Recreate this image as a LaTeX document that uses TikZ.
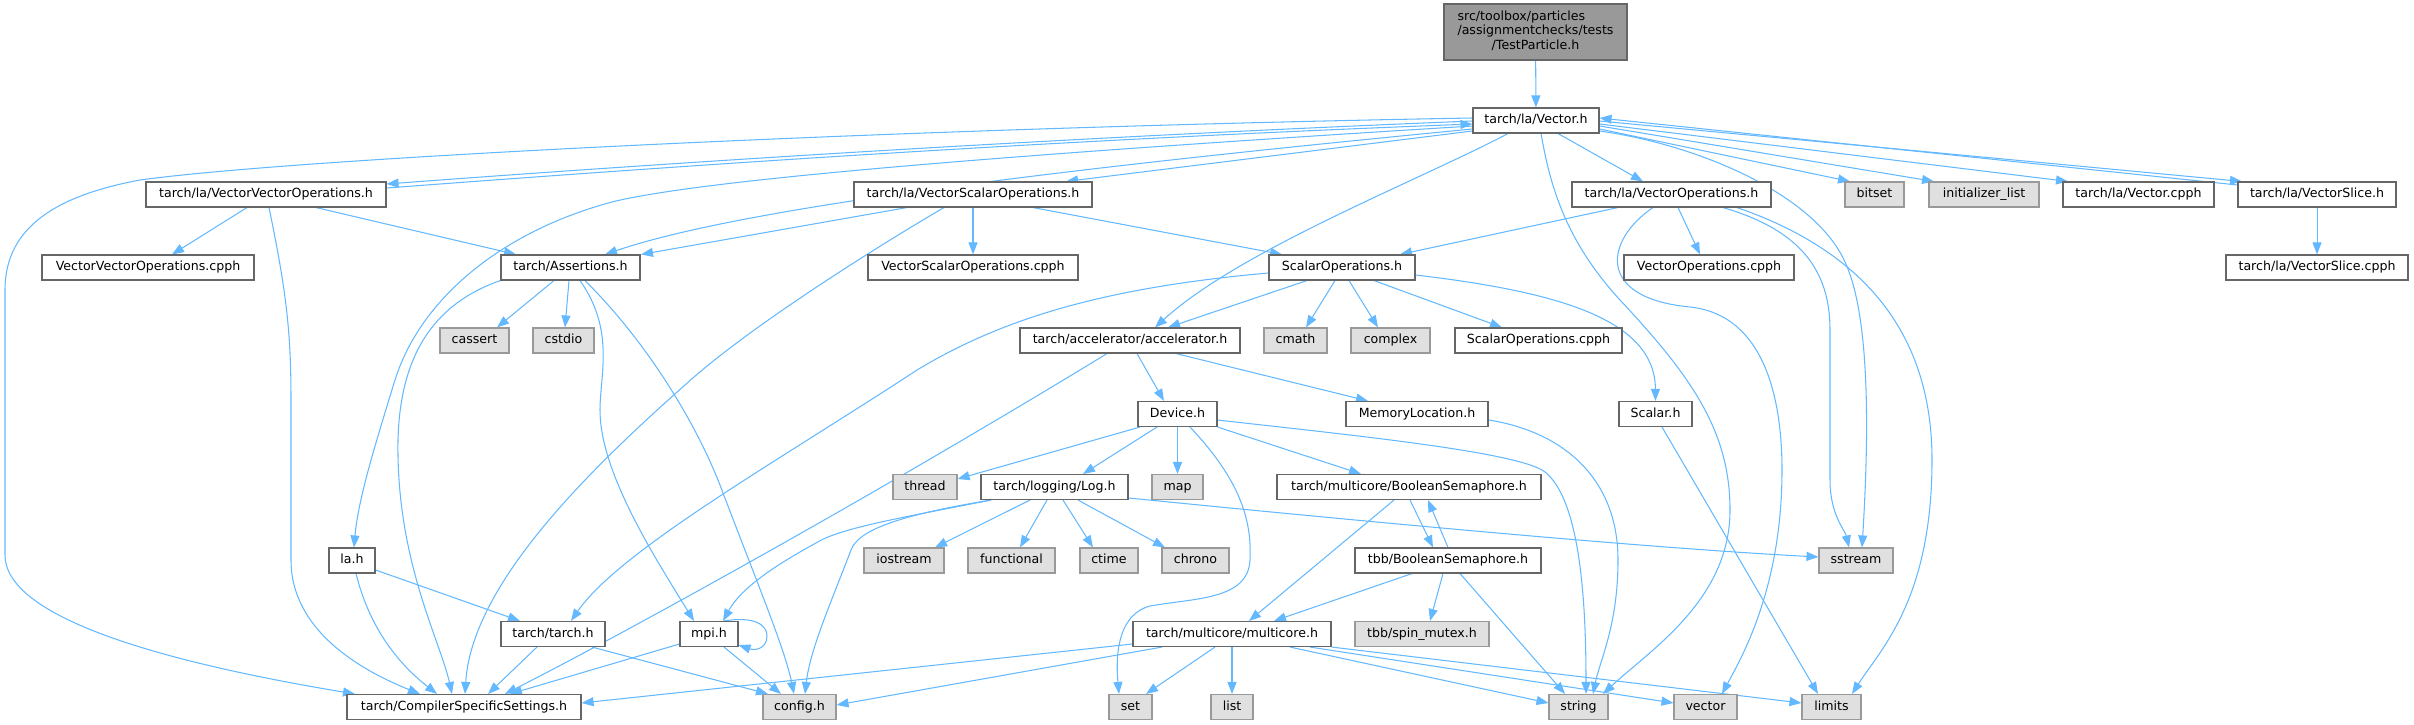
\documentclass[tikz,border=0pt]{standalone}
\usepackage{fontspec}
\setmainfont{DejaVu Sans}
\usetikzlibrary{arrows.meta,backgrounds}
\definecolor{edgeblue}{HTML}{63B8FF}
\definecolor{bordergray}{HTML}{666666}
\definecolor{sysfill}{HTML}{E0E0E0}
\definecolor{sysborder}{HTML}{999999}
\definecolor{rootfill}{HTML}{999999}
\begin{document}
\begin{tikzpicture}[x=1pt,y=-1pt,
  hdr/.style={draw=bordergray, fill=white, line width=1.1pt, inner sep=0pt,
    minimum height=25pt, text height=9.4pt, text depth=2.8pt,
    font=\fontsize{12.6}{14.6}\selectfont},
  sys/.style={hdr, draw=sysborder, fill=sysfill},
  rootbox/.style={draw=bordergray, fill=rootfill, line width=1.1pt, inner sep=0pt,
    minimum height=56pt, font=\fontsize{12.6}{14.6}\selectfont},
  e/.style={draw=edgeblue, line width=1.05pt, -{Triangle[length=12pt,width=9pt]}}]

\useasboundingbox (0,0) rectangle (2414,725);

% nodes
\node[rootbox, minimum width=183pt] (tp) at (1535.5,32)
  {\begin{tabular}{@{}l@{}}src/toolbox/particles\\/assignmentchecks/tests\\\multicolumn{1}{@{}c@{}}{/TestParticle.h}\end{tabular}};
\node[hdr, minimum width=126pt] (vec) at (1536,120.5) {tarch/la/Vector.h};

\node[hdr, minimum width=240pt] (vvo) at (266,194.5) {tarch/la/VectorVectorOperations.h};
\node[hdr, minimum width=238pt] (vso) at (973,194.5) {tarch/la/VectorScalarOperations.h};
\node[hdr, minimum width=199pt] (vops) at (1671.5,194.5) {tarch/la/VectorOperations.h};
\node[sys, minimum width=59pt] (bitset) at (1874.5,194.5) {bitset};
\node[sys, minimum width=110pt] (initl) at (1984,194.5) {initializer\_list};
\node[hdr, minimum width=151pt] (vcpph) at (2138.5,194.5) {tarch/la/Vector.cpph};
\node[hdr, minimum width=158pt] (vslice) at (2317,194.5) {tarch/la/VectorSlice.h};

\node[hdr, minimum width=212pt] (vvocpph) at (148,267.5) {VectorVectorOperations.cpph};
\node[hdr, minimum width=139pt] (asrt) at (570.5,267.5) {tarch/Assertions.h};
\node[hdr, minimum width=210pt] (vsocpph) at (973,267.5) {VectorScalarOperations.cpph};
\node[hdr, minimum width=146pt] (sops) at (1342,267.5) {ScalarOperations.h};
\node[hdr, minimum width=170pt] (vopscpph) at (1709,267.5) {VectorOperations.cpph};
\node[hdr, minimum width=182pt] (vslicecpph) at (2317,267.5) {tarch/la/VectorSlice.cpph};

\node[sys, minimum width=69pt] (cassert) at (474.5,340.5) {cassert};
\node[sys, minimum width=61pt] (cstdio) at (563.5,340.5) {cstdio};
\node[hdr, minimum width=220pt] (accel) at (1130,340.5) {tarch/accelerator/accelerator.h};
\node[sys, minimum width=63pt] (cmath) at (1295.5,340.5) {cmath};
\node[sys, minimum width=79pt] (complex) at (1390.5,340.5) {complex};
\node[hdr, minimum width=167pt] (sopscpph) at (1538.5,340.5) {ScalarOperations.cpph};

\node[hdr, minimum width=79pt] (device) at (1177.5,414) {Device.h};
\node[hdr, minimum width=142pt] (memloc) at (1417,414) {MemoryLocation.h};
\node[hdr, minimum width=73pt] (scalar) at (1655.5,414) {Scalar.h};

\node[sys, minimum width=64pt] (thread) at (925,487) {thread};
\node[hdr, minimum width=147pt] (log) at (1054.5,487) {tarch/logging/Log.h};
\node[sys, minimum width=51pt] (map) at (1177.5,487) {map};
\node[hdr, minimum width=264pt] (bsem) at (1409,487) {tarch/multicore/BooleanSemaphore.h};

\node[hdr, minimum width=46pt] (lah) at (352,560.5) {la.h};
\node[sys, minimum width=80pt] (iostream) at (904,560.5) {iostream};
\node[sys, minimum width=87pt] (functional) at (1011.5,560.5) {functional};
\node[sys, minimum width=58pt] (ctime) at (1109,560.5) {ctime};
\node[sys, minimum width=67pt] (chrono) at (1195.5,560.5) {chrono};
\node[hdr, minimum width=186pt] (tbbbs) at (1448,560.5) {tbb/BooleanSemaphore.h};
\node[sys, minimum width=74pt] (sstream) at (1856,560.5) {sstream};

\node[hdr, minimum width=104pt] (tarch) at (553,634) {tarch/tarch.h};
\node[hdr, minimum width=58pt] (mpi) at (709,634) {mpi.h};
\node[hdr, minimum width=198pt] (mcore) at (1232,634) {tarch/multicore/multicore.h};
\node[sys, minimum width=134pt] (spin) at (1422,634) {tbb/spin\_mutex.h};

\node[hdr, minimum width=234pt] (css) at (464,707) {tarch/CompilerSpecificSettings.h};
\node[sys, minimum width=73pt] (config) at (799.5,707) {config.h};
\node[sys, minimum width=43pt] (set) at (1130.5,707) {set};
\node[sys, minimum width=42pt] (list) at (1232,707) {list};
\node[sys, minimum width=59pt] (string) at (1578.5,707) {string};
\node[sys, minimum width=63pt] (vector) at (1705.5,707) {vector};
\node[sys, minimum width=59pt] (limits) at (1831.5,707) {limits};

\begin{scope}[on background layer]
% root
\draw[e] (tp) -- (vec);
% Vector.h
\draw[e] (vec.west |- 0,118) .. controls (900,128) and (300,158) .. (140,180) .. controls (60,195) and (5,225) .. (5,290) -- (5,555) .. controls (5,615) and (150,660) .. (css.north -| 355,0);
\draw[e] (vec.west |- 0,121) .. controls (1000,140) and (600,168) .. (vvo.east |- 0,184);
\draw[e] (vvo.east |- 0,188) .. controls (600,172) and (1000,142) .. (vec.west |- 0,124);
\draw[e] (vec.west |- 0,126) .. controls (1000,155) and (700,180) .. (612,202) .. controls (500,232) and (420,300) .. (395,380) .. controls (375,445) and (358,500) .. (lah.north -| 354,0);
\draw[e] (vec.west |- 0,129) .. controls (1100,165) and (750,205) .. (asrt.north -| 605,0);
\draw[e] (vec.west |- 0,131) -- (vso.north -| 1066,0);
\draw[e] (vec.south -| 1508,0) .. controls (1420,180) and (1240,250) .. (accel.north -| 1155,0);
\draw[e] (vec.south -| 1558,0) -- (vops.north -| 1643,0);
\draw[e] (vec.south -| 1541,0) .. controls (1550,185) and (1565,240) .. (1620,300) .. controls (1690,375) and (1730,430) .. (1730,510) .. controls (1730,600) and (1650,650) .. (string.north -| 1603,0);
\draw[e] (vec.east |- 0,129) -- (bitset.north -| 1850,0);
\draw[e] (vec.east |- 0,126) -- (initl.north -| 1934,0);
\draw[e] (vec.east |- 0,124) -- (vcpph.north -| 2068,0);
\draw[e] (vec.east |- 0,121) -- (vslice.north -| 2242,0);
\draw[e] (vslice.west |- 0,185) -- (vec.east |- 0,118);
\draw[e] (vec.east |- 0,131) .. controls (1700,145) and (1815,195) .. (1845,262) .. controls (1872,320) and (1868,450) .. (sstream.north -| 1862,0);
% VectorVectorOperations.h
\draw[e] (vvo.south -| 247,0) -- (vvocpph.north -| 172,0);
\draw[e] (vvo.south -| 316,0) -- (asrt.north -| 516,0);
\draw[e] (vvo.south -| 269,0) .. controls (286,290) and (291,330) .. (291,400) -- (291,560) .. controls (291,630) and (360,670) .. (css.north -| 420,0);
% VectorScalarOperations.h
\draw[e] (vso) -- (vsocpph);
\draw[e] (vso.south -| 907,0) -- (asrt.north -| 641,0);
\draw[e] (vso.south -| 944,0) .. controls (880,245) and (760,320) .. (694,377) .. controls (600,460) and (472,580) .. (css.north -| 465,0);
\draw[e] (vso.south -| 1033,0) -- (sops.north -| 1282,0);
% VectorOperations.h
\draw[e] (vops.south -| 1618,0) -- (sops.north -| 1400,0);
\draw[e] (vops.south -| 1678,0) -- (vopscpph.north -| 1700,0);
\draw[e] (vops.south -| 1653,0) .. controls (1605,240) and (1595,298) .. (1690,307) .. controls (1765,315) and (1782,400) .. (1782,470) .. controls (1782,590) and (1740,660) .. (vector.north -| 1722,0);
\draw[e] (vops.south -| 1723,0) .. controls (1800,230) and (1830,270) .. (1830,330) -- (1830,480) .. controls (1830,515) and (1845,530) .. (sstream.north -| 1849,0);
\draw[e] (vops.south -| 1737,0) .. controls (1860,250) and (1932,330) .. (1932,460) .. controls (1932,600) and (1880,650) .. (limits.north -| 1852,0);
% VectorSlice.h
\draw[e] (vslice) -- (vslicecpph);
% Assertions.h
\draw[e] (asrt.south -| 554,0) -- (cassert.north -| 497,0);
\draw[e] (asrt.south -| 569,0) -- (cstdio.north -| 565,0);
\draw[e] (asrt.south west) .. controls (430,305) and (400,360) .. (398,440) .. controls (396,560) and (440,640) .. (css.north -| 452,0);
\draw[e] (asrt.south -| 580,0) .. controls (615,330) and (600,375) .. (600,410) .. controls (600,470) and (650,550) .. (mpi.north -| 694,0);
\draw[e] (asrt.south -| 585,0) .. controls (650,345) and (700,430) .. (723,493) .. controls (760,590) and (785,650) .. (config.north -| 794,0);
% la.h, tarch.h, mpi.h
\draw[e] (lah.east |- 0,570) -- (tarch.north -| 520,0);
\draw[e] (lah.south -| 356,0) .. controls (370,630) and (400,665) .. (css.north -| 437,0);
\draw[e] (tarch.south -| 537,0) -- (css.north -| 488,0);
\draw[e] (tarch.south -| 592,0) -- (config.north -| 768,0);
\draw[e] (mpi.north -| 724,0) .. controls (755,616) and (767,625) .. (767,636) .. controls (767,648) and (756,651) .. (mpi.east |- 0,645);
\draw[e] (mpi.west |- 0,644) -- (css.north -| 510,0);
\draw[e] (mpi.south -| 724,0) -- (config.north -| 781,0);
% ScalarOperations.h
\draw[e] (sops.south -| 1307,0) -- (accel.north -| 1168,0);
\draw[e] (sops.south -| 1335,0) -- (cmath.north -| 1306,0);
\draw[e] (sops.south -| 1349,0) -- (complex.north -| 1378,0);
\draw[e] (sops.south -| 1374,0) -- (sopscpph.north -| 1502,0);
\draw[e] (sops.east |- 0,275) .. controls (1560,292) and (1655,320) .. (scalar.north);
\draw[e] (sops.west |- 0,273) .. controls (1100,288) and (1000,320) .. (917,370) .. controls (780,460) and (620,550) .. (tarch.north -| 571,0);
\draw[e] (scalar.south -| 1662,0) -- (limits.north -| 1818,0);
% accelerator.h
\draw[e] (accel.south -| 1137,0) -- (device.north -| 1164,0);
\draw[e] (accel.south -| 1176,0) -- (memloc.north -| 1368,0);
\draw[e] (accel.south -| 1107,0) .. controls (900,480) and (650,620) .. (css.north -| 505,0);
% Device.h
\draw[e] (device.south -| 1140,0) -- (thread.east |- 0,479);
\draw[e] (device.south -| 1157,0) -- (log.north -| 1083,0);
\draw[e] (device) -- (map);
\draw[e] (device.south east) -- (bsem.north -| 1361,0);
\draw[e] (device.south -| 1190,0) .. controls (1240,480) and (1252,520) .. (1250,560) .. controls (1248,600) and (1195,598) .. (1150,606) .. controls (1120,614) and (1115,650) .. (set.north -| 1119,0);
\draw[e] (device.east |- 0,420) .. controls (1350,435) and (1520,452) .. (1545,472) .. controls (1580,500) and (1586,600) .. (string.north -| 1586,0);
\draw[e] (memloc.east |- 0,420) .. controls (1565,432) and (1618,480) .. (1618,560) .. controls (1618,625) and (1600,660) .. (string.north -| 1593,0);
% Log.h
\draw[e] (log.south -| 1030,0) -- (iostream.north -| 935,0);
\draw[e] (log.south -| 1047,0) -- (functional.north -| 1020,0);
\draw[e] (log.south -| 1063,0) -- (ctime.north -| 1093,0);
\draw[e] (log.south -| 1078,0) -- (chrono.north -| 1165,0);
\draw[e] (log.east |- 0,498) .. controls (1400,525) and (1650,548) .. (sstream.west |- 0,557);
\draw[e] (log.south -| 991,0) .. controls (900,515) and (858,530) .. (851,550) .. controls (830,605) and (810,650) .. (config.north -| 805,0);
\draw[e] (log.south -| 991,0) .. controls (900,518) and (840,528) .. (816,543) .. controls (770,568) and (740,590) .. (mpi.north -| 723,0);
% BooleanSemaphore
\draw[e] (bsem.south -| 1410,0) -- (tbbbs.north -| 1433,0);
\draw[e] (tbbbs.north -| 1448,0) -- (bsem.south -| 1428,0);
\draw[e] (bsem.south -| 1394,0) -- (mcore.north -| 1249,0);
\draw[e] (tbbbs.south -| 1412,0) -- (mcore.north -| 1274,0);
\draw[e] (tbbbs.south -| 1443,0) -- (spin.north -| 1430,0);
\draw[e] (tbbbs.south -| 1460,0) -- (string.north -| 1565,0);
% multicore.h
\draw[e] (mcore.west |- 0,644) -- (css.east |- 0,703);
\draw[e] (mcore.south -| 1162,0) -- (config.east |- 0,705);
\draw[e] (mcore.south -| 1215,0) -- (set.north -| 1146,0);
\draw[e] (mcore) -- (list);
\draw[e] (mcore.south -| 1290,0) -- (string.west |- 0,703);
\draw[e] (mcore.south -| 1310,0) -- (vector.west |- 0,703);
\draw[e] (mcore.south east) -- (limits.west |- 0,703);
\end{scope}
\end{tikzpicture}
\end{document}
